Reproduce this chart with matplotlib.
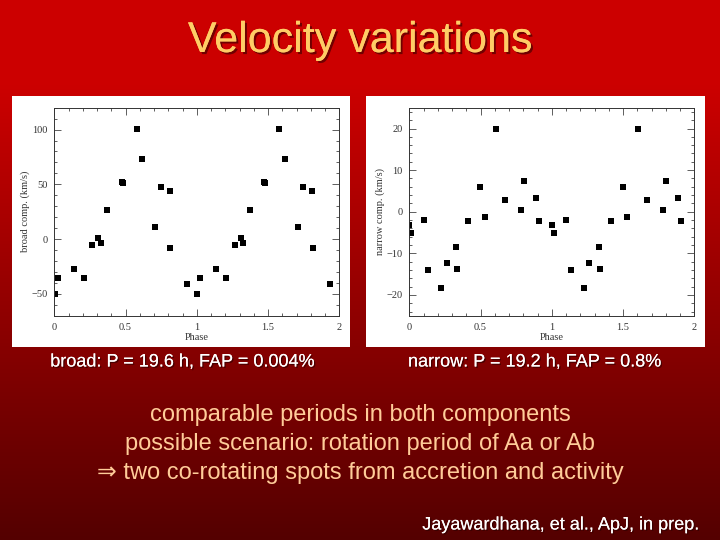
import numpy as np
import matplotlib
matplotlib.use("Agg")
import matplotlib.pyplot as plt
import matplotlib.patheffects as pe
from matplotlib.patches import Rectangle
from matplotlib.ticker import MultipleLocator, FuncFormatter

# ---- data (phase in [0,1), plotted twice: phase and phase+1) ----
broad_phase = [0.003, 0.023, 0.135, 0.205, 0.265, 0.310, 0.327, 0.370, 0.473, 0.482,
               0.577, 0.618, 0.710, 0.748, 0.810, 0.812, 0.932]
broad_vel = [-50.6, -35.5, -27.6, -35.8, -5.8, 0.9, -3.9, 26.1, 52.4, 51.2,
             100.3, 73.3, 10.9, 47.6, 43.9, -8.5, -40.6]

narrow_phase = [0.000, 0.012, 0.100, 0.132, 0.224, 0.262, 0.331, 0.336, 0.415, 0.497,
                0.531, 0.605, 0.669, 0.783, 0.804, 0.886, 0.907]
narrow_vel = [-3.1, -5.0, -2.1, -14.1, -18.4, -12.3, -8.4, -13.7, -2.3, 5.9,
              -1.3, 19.8, 2.7, 0.4, 7.5, 3.3, -2.2]

captions = ["broad: P = 19.6 h, FAP = 0.004%", "narrow: P = 19.2 h, FAP = 0.8%"]
ylabels = ["broad comp. (km/s)", "narrow comp. (km/s)"]
body_lines = ["comparable periods in both components",
              "possible scenario: rotation period of Aa or Ab",
              "\u21d2 two co-rotating spots from accretion and activity"]

W, H = 720, 540
fig = plt.figure(figsize=(7.2, 5.4), dpi=100)

# ---- background gradient ----
bg = fig.add_axes([0, 0, 1, 1], zorder=-10)
yy = np.linspace(0, 1, 540)  # 0 = top
t = np.clip((yy * 540 - 85) / (540 - 85), 0, 1)
top = np.array([204, 0, 0]) / 255.0
bot = np.array([84, 0, 0]) / 255.0
grad = top[None, :] * (1 - t[:, None]) + bot[None, :] * t[:, None]
img = np.repeat(grad[:, None, :], 10, axis=1)
bg.imshow(img, aspect="auto", extent=[0, 1, 0, 1], origin="upper")
bg.set_axis_off()

def fx(px):
    return px / W

def fy(py):
    return 1 - py / H

# ---- white panels ----
for x0, x1 in [(12, 350), (366, 705)]:
    fig.patches.append(Rectangle((fx(x0), fy(347)), fx(x1 - x0), (347 - 96) / H,
                                 transform=fig.transFigure, facecolor="white",
                                 edgecolor="none", zorder=0))

serif = ["Liberation Serif", "DejaVu Serif"]
fmt = FuncFormatter(lambda v, p: "%g" % v)

def make_axes(xleft, phase, vel, ylim, major, minor, ylabel):
    ax = fig.add_axes([fx(xleft), fy(315.7), 285 / W, 208 / H], zorder=2)
    ph = np.asarray(phase)
    v = np.asarray(vel)
    ax.plot(np.concatenate([ph, ph + 1]), np.concatenate([v, v]), "s",
            color="black", markersize=4.0, markeredgewidth=0)
    ax.set_xlim(0, 2)
    ax.set_ylim(*ylim)
    ax.xaxis.set_major_locator(MultipleLocator(0.5))
    ax.xaxis.set_minor_locator(MultipleLocator(0.1))
    ax.yaxis.set_major_locator(MultipleLocator(major))
    ax.yaxis.set_minor_locator(MultipleLocator(minor))
    ax.xaxis.set_major_formatter(fmt)
    ax.yaxis.set_major_formatter(FuncFormatter(lambda v, p: ("%g" % v).replace("-", "\u2212")))
    ax.tick_params(which="both", direction="in", top=True, right=True,
                   width=0.6, color="#444444", labelsize=7.5, labelcolor="#333333", pad=5)
    ax.tick_params(which="major", length=5)
    ax.tick_params(which="minor", length=2.5)
    fig.canvas.draw()
    for lab in ax.get_xticklabels() + ax.get_yticklabels():
        lab.set_fontfamily(serif)
    ax.set_xlabel("Phase", fontsize=7.5, fontfamily=serif, color="#333333", labelpad=1)
    ax.set_ylabel(ylabel, fontsize=7.5, fontfamily=serif, color="#333333", labelpad=1)
    for s in ax.spines.values():
        s.set_linewidth(0.7)
        s.set_color("#333333")
    ax.set_facecolor("white")
    return ax

ax1 = make_axes(54.3, broad_phase, broad_vel, (-70, 120), 50, 10, ylabels[0])
ax2 = make_axes(409.3, narrow_phase, narrow_vel, (-25, 25), 10, 2, ylabels[1])

sans = ["Liberation Sans", "DejaVu Sans"]
shadow = [pe.withSimplePatchShadow(offset=(1.5, -1.5), shadow_rgbFace="#4a0000", alpha=0.7),
          pe.Normal()]

# title
fig.text(fx(360), fy(41), "Velocity variations", ha="center", va="center",
         fontsize=31, color="#FFCC66", fontfamily=sans, path_effects=shadow)

# captions
small_shadow = [pe.withSimplePatchShadow(offset=(1, -1), shadow_rgbFace="#300000", alpha=0.7),
                pe.Normal()]
fig.text(fx(182), fy(362), captions[0], ha="center", va="center", fontsize=13,
         color="white", fontfamily=sans, path_effects=small_shadow)
fig.text(fx(534), fy(362), captions[1], ha="center", va="center", fontsize=13,
         color="white", fontfamily=sans, path_effects=small_shadow)

# body text
for i, line in enumerate(body_lines):
    fig.text(fx(360), fy(415 + 29 * i), line, ha="center", va="center",
             fontsize=17, color="#FFCC99", fontfamily=sans)

fig.text(fx(698), fy(525), "Jayawardhana, et al., ApJ, in prep.", ha="right", va="center",
         fontsize=13, color="white", fontfamily=sans, path_effects=small_shadow)

fig.savefig("out.png", dpi=100)
